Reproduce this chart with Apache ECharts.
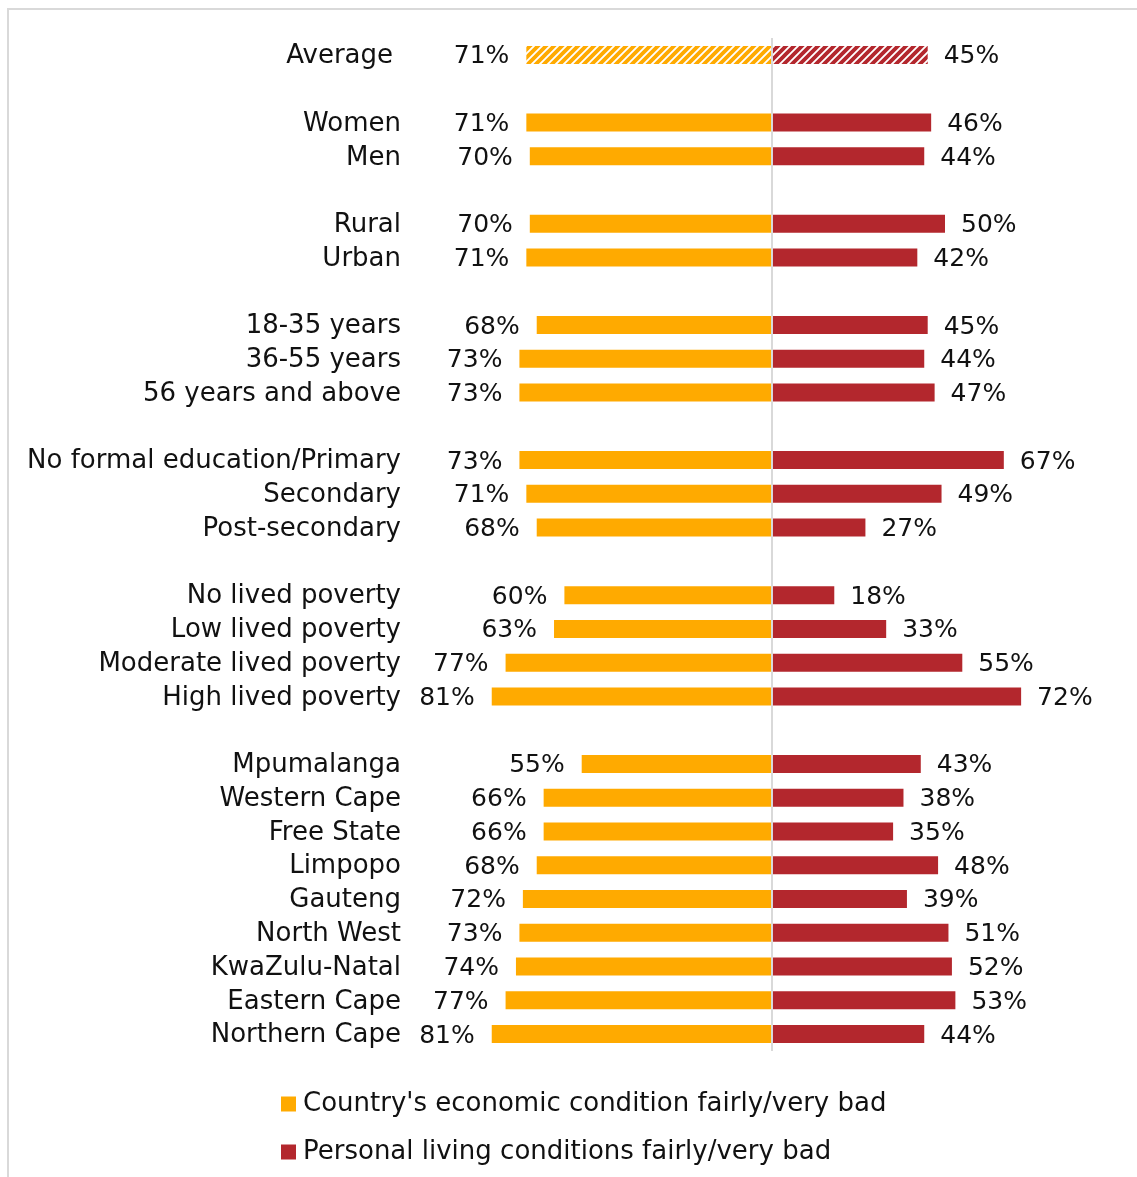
<!DOCTYPE html>
<html>
<head>
<meta charset="utf-8">
<title>Economic and living conditions</title>
<script src="https://cdn.jsdelivr.net/npm/echarts@6/dist/echarts.min.js"></script>
<style>
  html, body { margin: 0; padding: 0; background: #fff; }
  #chart { width: 1137px; height: 1177px; }
</style>
</head>
<body>
<div id="chart"></div>
<script>
// Row labels (empty entries are spacer rows between groups)
const categories = [
  'Average', '',
  'Women', 'Men', '',
  'Rural', 'Urban', '',
  '18-35 years', '36-55 years', '56 years and above', '',
  'No formal education/Primary', 'Secondary', 'Post-secondary', '',
  'No lived poverty', 'Low lived poverty', 'Moderate lived poverty', 'High lived poverty', '',
  'Mpumalanga', 'Western Cape', 'Free State', 'Limpopo', 'Gauteng',
  'North West', 'KwaZulu-Natal', 'Eastern Cape', 'Northern Cape'
];

// % saying the country's economic condition is fairly/very bad
const economicBad = [
  71, null,
  71, 70, null,
  70, 71, null,
  68, 73, 73, null,
  73, 71, 68, null,
  60, 63, 77, 81, null,
  55, 66, 66, 68, 72, 73, 74, 77, 81
];

// % saying their personal living conditions are fairly/very bad
const personalBad = [
  45, null,
  46, 44, null,
  50, 42, null,
  45, 44, 47, null,
  67, 49, 27, null,
  18, 33, 55, 72, null,
  43, 38, 35, 48, 39, 51, 52, 53, 44
];

const seriesNames = [
  "Country's economic condition fairly/very bad",
  'Personal living conditions fairly/very bad'
];

const ORANGE = '#FFAA00';
const RED = '#B3272D';
const FONT = 'DejaVu Sans';

// Diagonal stripe fill used for the "Average" row
function stripes(color) {
  const size = 8;
  const c = document.createElement('canvas');
  c.width = size; c.height = size;
  const g = c.getContext('2d');
  g.fillStyle = '#ffffff';
  g.fillRect(0, 0, size, size);
  g.strokeStyle = color;
  g.lineWidth = 3.8;
  g.beginPath();
  g.moveTo(-2, size + 2); g.lineTo(size + 2, -2);
  g.moveTo(-2, 2); g.lineTo(2, -2);
  g.moveTo(size - 2, size + 2); g.lineTo(size + 2, size - 2);
  g.stroke();
  return { image: c, repeat: 'repeat' };
}

function toItems(values, sign, color, hatchFirst) {
  return values.map((v, i) => {
    if (v == null) return null;
    const item = { value: sign * v };
    if (i === 0 && hatchFirst) item.itemStyle = { color: stripes(color) };
    return item;
  });
}

const chart = echarts.init(document.getElementById('chart'), null, { renderer: 'canvas' });

chart.setOption({
  animation: false,
  backgroundColor: '#ffffff',
  textStyle: { fontFamily: FONT },
  graphic: [{
    type: 'rect',
    shape: { x: 8, y: 9, width: 1300, height: 1300 },
    style: { fill: 'none', stroke: '#d9d9d9', lineWidth: 2 },
    silent: true
  }],
  grid: { left: 426, right: 19, top: 38.1, bottom: 126.1, containLabel: false },
  xAxis: {
    type: 'value', min: -100, max: 100, show: false
  },
  yAxis: {
    type: 'category',
    inverse: true,
    data: categories,
    axisLine: { show: false },
    axisTick: { show: false },
    splitLine: { show: false },
    axisLabel: {
      margin: 25,
      fontSize: 26,
      fontFamily: FONT,
      color: '#111',
      interval: 0,
      padding: [3, 0, 0, 0],
      formatter: (v, i) => (i === 0 ? '{avg|' + v + '}' : v),
      rich: { avg: { fontSize: 26, fontFamily: FONT, color: '#111', padding: [0, 8, 0, 0] } }
    }
  },
  legend: {
    orient: 'vertical',
    left: 281,
    top: 1091,
    padding: 0,
    itemWidth: 15,
    itemHeight: 15,
    itemGap: 22,
    icon: 'rect',
    textStyle: { fontSize: 26, fontFamily: FONT, color: '#111', padding: [0, 0, 0, 2] },
    data: seriesNames
  },
  series: [
    {
      name: seriesNames[0],
      type: 'bar',
      barWidth: 18,
      barGap: '-100%',
      itemStyle: { color: ORANGE },
      label: {
        show: true,
        position: 'left',
        distance: 17,
        offset: [0, 2],
        fontSize: 25,
        fontFamily: FONT,
        color: '#111',
        formatter: p => Math.abs(p.value) + '%'
      },
      data: toItems(economicBad, -1, ORANGE, true)
    },
    {
      name: seriesNames[1],
      type: 'bar',
      barWidth: 18,
      barGap: '-100%',
      itemStyle: { color: RED },
      label: {
        show: true,
        position: 'right',
        distance: 16,
        offset: [0, 2],
        fontSize: 25,
        fontFamily: FONT,
        color: '#111',
        formatter: p => p.value + '%'
      },
      markLine: {
        silent: true,
        symbol: ['none', 'none'],
        label: { show: false },
        lineStyle: { color: '#d9d9d9', width: 2, type: 'solid' },
        data: [{ xAxis: 0 }]
      },
      data: toItems(personalBad, 1, RED, true)
    }
  ]
});
</script>
</body>
</html>
